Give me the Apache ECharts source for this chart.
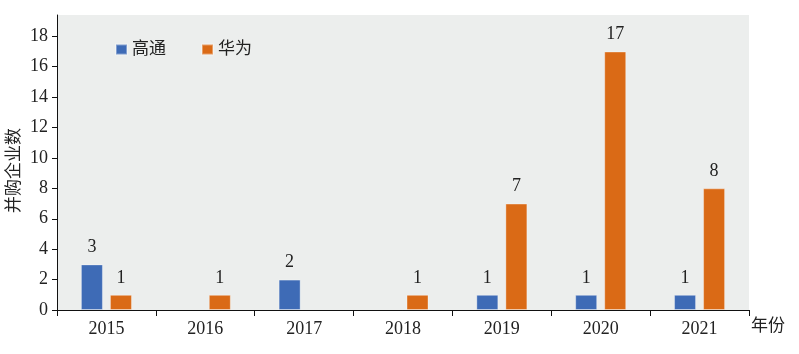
<!DOCTYPE html>
<html>
<head>
<meta charset="utf-8">
<script src="https://cdn.jsdelivr.net/npm/echarts@6/dist/echarts.min.js"></script>
<style>
  html, body { margin: 0; padding: 0; background: #fff; }
  #chart { width: 799px; height: 354px; }
</style>
</head>
<body>
<div id="chart"></div>
<script>
const years = ["2015", "2016", "2017", "2018", "2019", "2020", "2021"];
const qualcomm = [3, null, 2, null, 1, 1, 1];
const huawei = [1, 1, null, 1, 7, 17, 8];
const seriesNames = ["高通", "华为"];

const font = "'Liberation Serif', 'Noto Sans CJK SC', serif";
const chart = echarts.init(document.getElementById("chart"));

const labelStyle = {
  show: true,
  position: "top",
  distance: 8,
  color: "#222",
  fontSize: 18,
  fontFamily: font,
};

chart.setOption({
  animation: false,
  textStyle: { fontFamily: font },
  grid: {
    left: 57,
    right: 50,
    top: 15,
    bottom: 44,
    outerBoundsMode: "none",
    containLabel: false,
    show: true,
    backgroundColor: "#eceeed",
    borderWidth: 0,
  },
  legend: {
    left: 110,
    top: 36,
    itemWidth: 11,
    itemHeight: 10,
    itemGap: 35,
    icon: "rect",
    textStyle: { fontSize: 17, color: "#222", fontFamily: font },
    data: seriesNames,
  },
  xAxis: {
    type: "category",
    data: years,
    name: "年份",
    nameLocation: "end",
    nameGap: 2,
    nameTextStyle: {
      fontSize: 17,
      color: "#222",
      fontFamily: font,
      verticalAlign: "top",
      padding: [8, 0, 0, 0],
    },
    axisLine: { lineStyle: { color: "#111", width: 1 } },
    axisTick: { show: true, length: 6, lineStyle: { color: "#111" } },
    axisLabel: { color: "#222", fontSize: 18, margin: 10, fontFamily: font },
  },
  yAxis: {
    type: "value",
    min: 0,
    max: 19.4,
    interval: 2,
    name: "并购企业数",
    nameLocation: "middle",
    nameRotate: 90,
    nameGap: 34,
    nameMoveOverlap: false,
    nameTextStyle: { fontSize: 17, color: "#222", fontFamily: font, padding: [0, 16, 0, 0] },
    axisLine: { show: true, lineStyle: { color: "#111", width: 1 } },
    axisTick: { show: true, length: 5, lineStyle: { color: "#111" } },
    axisLabel: { color: "#222", fontSize: 18, margin: 9, fontFamily: font, showMaxLabel: false },
    splitLine: { show: false },
  },
  series: [
    {
      name: seriesNames[0],
      type: "bar",
      data: qualcomm,
      barWidth: 22,
      barGap: "32%",
      itemStyle: { color: "#3e6bb6", borderColor: "rgba(255,255,255,0.35)", borderWidth: 1 },
      label: labelStyle,
    },
    {
      name: seriesNames[1],
      type: "bar",
      data: huawei,
      barWidth: 22,
      barGap: "32%",
      itemStyle: { color: "#da6a16", borderColor: "rgba(255,255,255,0.35)", borderWidth: 1 },
      label: labelStyle,
    },
  ],
});
</script>
</body>
</html>
